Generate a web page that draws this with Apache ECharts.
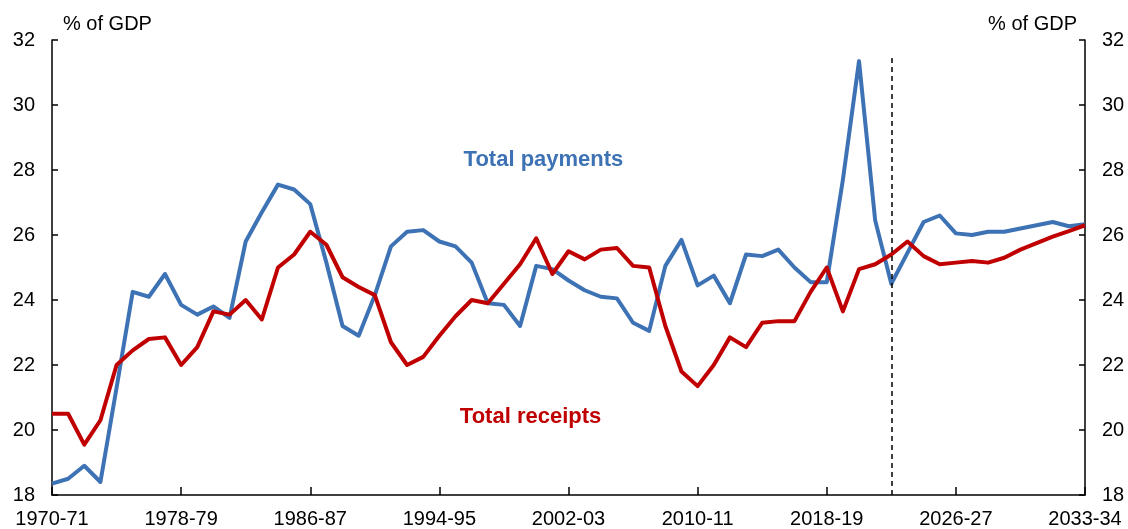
<!DOCTYPE html>
<html>
<head>
<meta charset="utf-8">
<script src="https://cdn.jsdelivr.net/npm/echarts@6/dist/echarts.min.js"></script>
<style>
html,body{margin:0;padding:0;background:#fff;}
#chart{width:1128px;height:529px;}
</style>
</head>
<body>
<div id="chart"></div>
<script>
// x tick labels at every 8th year position (0..64)
const tickLabels = ['1970-71','1978-79','1986-87','1994-95','2002-03','2010-11','2018-19','2026-27','2033-34'];
const yTickLabels = [18,20,22,24,26,28,30,32];
const projectionStartIndex = 52;

const totalPayments = [
  18.35,18.5,18.9,18.4,21.3,24.25,24.1,24.8,23.85,23.55,
  23.8,23.45,25.8,26.7,27.55,27.4,26.95,25.15,23.2,22.9,
  24.15,25.65,26.1,26.15,25.8,25.65,25.15,23.9,23.85,23.2,
  25.05,24.95,24.6,24.3,24.1,24.05,23.3,23.05,25.05,25.85,
  24.45,24.75,23.9,25.4,25.35,25.55,25.0,24.55,24.55,27.7,
  31.35,26.45,24.5,25.45,26.4,26.6,26.05,26.0,26.1,26.1,
  26.2,26.3,26.4,26.27,26.33
];
const totalReceipts = [
  20.5,20.5,19.55,20.3,22.0,22.45,22.8,22.85,22.0,22.55,
  23.65,23.55,24.0,23.4,25.0,25.4,26.1,25.7,24.7,24.4,
  24.15,22.7,22.0,22.25,22.9,23.5,24.0,23.9,24.5,25.1,
  25.9,24.8,25.5,25.25,25.55,25.6,25.05,25.0,23.2,21.8,
  21.35,22.0,22.85,22.55,23.3,23.35,23.35,24.25,25.0,23.65,
  24.95,25.1,25.4,25.8,25.35,25.1,25.15,25.2,25.15,25.3,
  25.55,25.75,25.95,26.12,26.3
];

const FONT = '"Liberation Sans", Arial, sans-serif';
const chart = echarts.init(document.getElementById('chart'), null, {renderer:'canvas'});

const pay = totalPayments.map((v,i)=>[i,v]);
const rec = totalReceipts.map((v,i)=>[i,v]);

const yAxisCommon = {
  type:'value', min:18, max:32, interval:2,
  axisLine:{show:true, lineStyle:{color:'#000', width:1.5}},
  axisTick:{show:true, inside:true, length:6, lineStyle:{color:'#000', width:1.5}},
  splitLine:{show:false},
  axisLabel:{color:'#000', fontSize:20, fontFamily:FONT, margin:17}
};

chart.setOption({
  animation:false,
  backgroundColor:'#fff',
  grid:{left:52, right:43, top:40, bottom:33, containLabel:false},
  xAxis:{
    type:'value', min:0, max:64, interval:8,
    axisLine:{show:true, onZero:false, lineStyle:{color:'#000', width:1.5}},
    axisTick:{show:true, inside:true, length:8, lineStyle:{color:'#000', width:1.5}},
    splitLine:{show:false},
    axisLabel:{color:'#000', fontSize:20, fontFamily:FONT, margin:14,
      formatter:(v)=>tickLabels[Math.round(v/8)] || ''}
  },
  yAxis:[
    Object.assign({position:'left'}, yAxisCommon),
    Object.assign({position:'right'}, yAxisCommon)
  ],
  graphic:[
    {type:'text', left:63, top:14, style:{text:'% of GDP', fontSize:20, fontFamily:FONT, fill:'#000'}},
    {type:'text', right:51, top:14, style:{text:'% of GDP', fontSize:20, fontFamily:FONT, fill:'#000'}}
  ],
  series:[
    {
      name:'Total payments', type:'line', data:pay, yAxisIndex:0,
      showSymbol:false, symbol:'none',
      lineStyle:{color:'#3D72B4', width:4, join:'round'},
      itemStyle:{color:'#3D72B4'},
      z:3,
      markPoint:{
        symbol:'rect', symbolSize:0, silent:true,
        label:{show:true, formatter:'Total payments', color:'#3D72B4', fontSize:22, fontWeight:'bold', fontFamily:FONT},
        data:[{coord:[30.45, 28.3]}]
      },
      markLine:{
        silent:true, symbol:'none', animation:false,
        lineStyle:{color:'#000', type:[5,4], width:1.5},
        label:{show:false},
        data:[[{coord:[projectionStartIndex,31.45]},{coord:[projectionStartIndex,18]}]]
      }
    },
    {
      name:'Total receipts', type:'line', data:rec, yAxisIndex:0,
      showSymbol:false, symbol:'none',
      lineStyle:{color:'#C00000', width:4, join:'round'},
      itemStyle:{color:'#C00000'},
      z:4,
      markPoint:{
        symbol:'rect', symbolSize:0, silent:true,
        label:{show:true, formatter:'Total receipts', color:'#C00000', fontSize:22, fontWeight:'bold', fontFamily:FONT},
        data:[{coord:[29.65, 20.39]}]
      }
    }
  ]
});
</script>
</body>
</html>
